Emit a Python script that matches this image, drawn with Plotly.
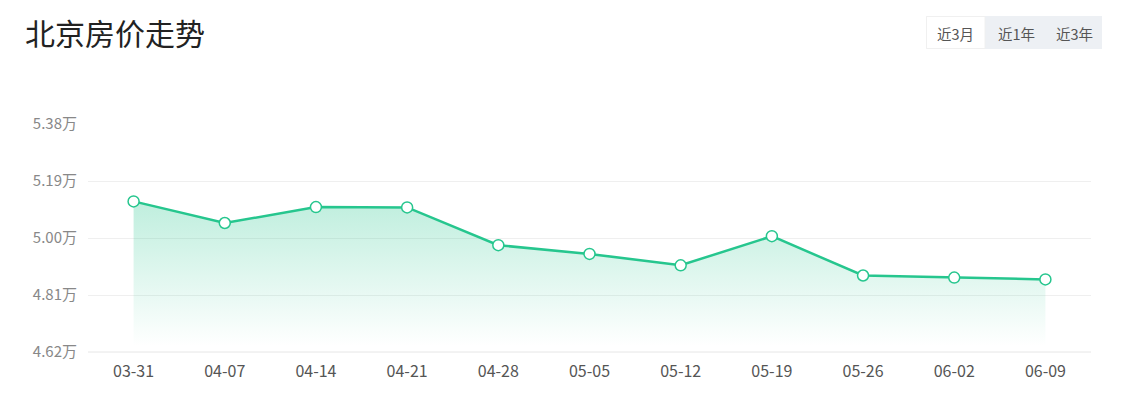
import plotly.graph_objects as go

dates = ["03-31", "04-07", "04-14", "04-21", "04-28", "05-05", "05-12", "05-19", "05-26", "06-02", "06-09"]
prices = [5.122, 5.050, 5.103, 5.102, 4.976, 4.947, 4.909, 5.006, 4.875, 4.868, 4.862]
ytick_vals = [4.62, 4.81, 5.00, 5.19, 5.38]
ytick_text = ["4.62万", "4.81万", "5.00万", "5.19万", "5.38万"]
buttons = ["近3月", "近1年", "近3年"]

W, H = 1125, 396
L, R, T, B = 88, 34, 124, 44
pw, ph = W - L - R, H - T - B

def px(x):
    return (x - L) / pw

def py(y):
    return (H - B - y) / ph

green = "rgb(38,198,142)"
font = "Noto Sans CJK SC, Microsoft YaHei, sans-serif"

fig = go.Figure()
fig.add_trace(go.Scatter(
    x=list(range(len(dates))), y=prices,
    mode="lines+markers",
    line=dict(color=green, width=2.5),
    marker=dict(size=11, color="white", line=dict(color=green, width=1.5)),
    fill="tozeroy",
    fillgradient=dict(type="vertical", start=4.64, stop=5.13,
                      colorscale=[[0, "rgba(38,198,142,0.0)"], [1, "rgba(38,198,142,0.30)"]]),
    hoverinfo="skip",
    showlegend=False,
))

shapes = [
    dict(type="rect", xref="paper", yref="paper", x0=px(926), x1=px(1102), y0=py(49), y1=py(16),
         fillcolor="#edf0f4", line=dict(width=0), layer="above"),
    dict(type="rect", xref="paper", yref="paper", x0=px(926.5), x1=px(985), y0=py(48.5), y1=py(16.5),
         fillcolor="white", line=dict(width=1, color="#f0f0f0"), layer="above"),
    dict(type="line", xref="paper", yref="paper", x0=0, x1=1, y0=0, y1=0,
         line=dict(width=1, color="#e6e6e6"), layer="above"),
]
btn_x = [955.5, 1016, 1074]
annotations = [
    dict(text=t, x=px(bx), y=py(33), xref="paper", yref="paper", showarrow=False,
         xanchor="center", yanchor="middle", font=dict(size=14.5, color="#555", family=font))
    for t, bx in zip(buttons, btn_x)
]

fig.update_layout(
    width=W, height=H,
    margin=dict(l=L, r=R, t=T, b=B),
    paper_bgcolor="white", plot_bgcolor="white",
    title=dict(text="北京房价走势", x=25 / W, xanchor="left", y=1 - 34 / H, yanchor="middle",
               font=dict(size=30, color="#222", family=font)),
    xaxis=dict(range=[-0.5, len(dates) - 0.5], tickvals=list(range(len(dates))), ticktext=dates,
               showgrid=False, zeroline=False, showline=False, ticks="", ticklabelstandoff=8,
               tickfont=dict(size=16, color="#555", family=font), fixedrange=True),
    yaxis=dict(range=[4.62, 5.38], tickvals=ytick_vals, ticktext=ytick_text,
               showgrid=True, gridcolor="#efefef", gridwidth=1, zeroline=False, showline=False,
               ticks="", ticklabelstandoff=10,
               tickfont=dict(size=15, color="#888", family=font), fixedrange=True),
    shapes=shapes,
    annotations=annotations,
)

fig.write_html("out.html")
